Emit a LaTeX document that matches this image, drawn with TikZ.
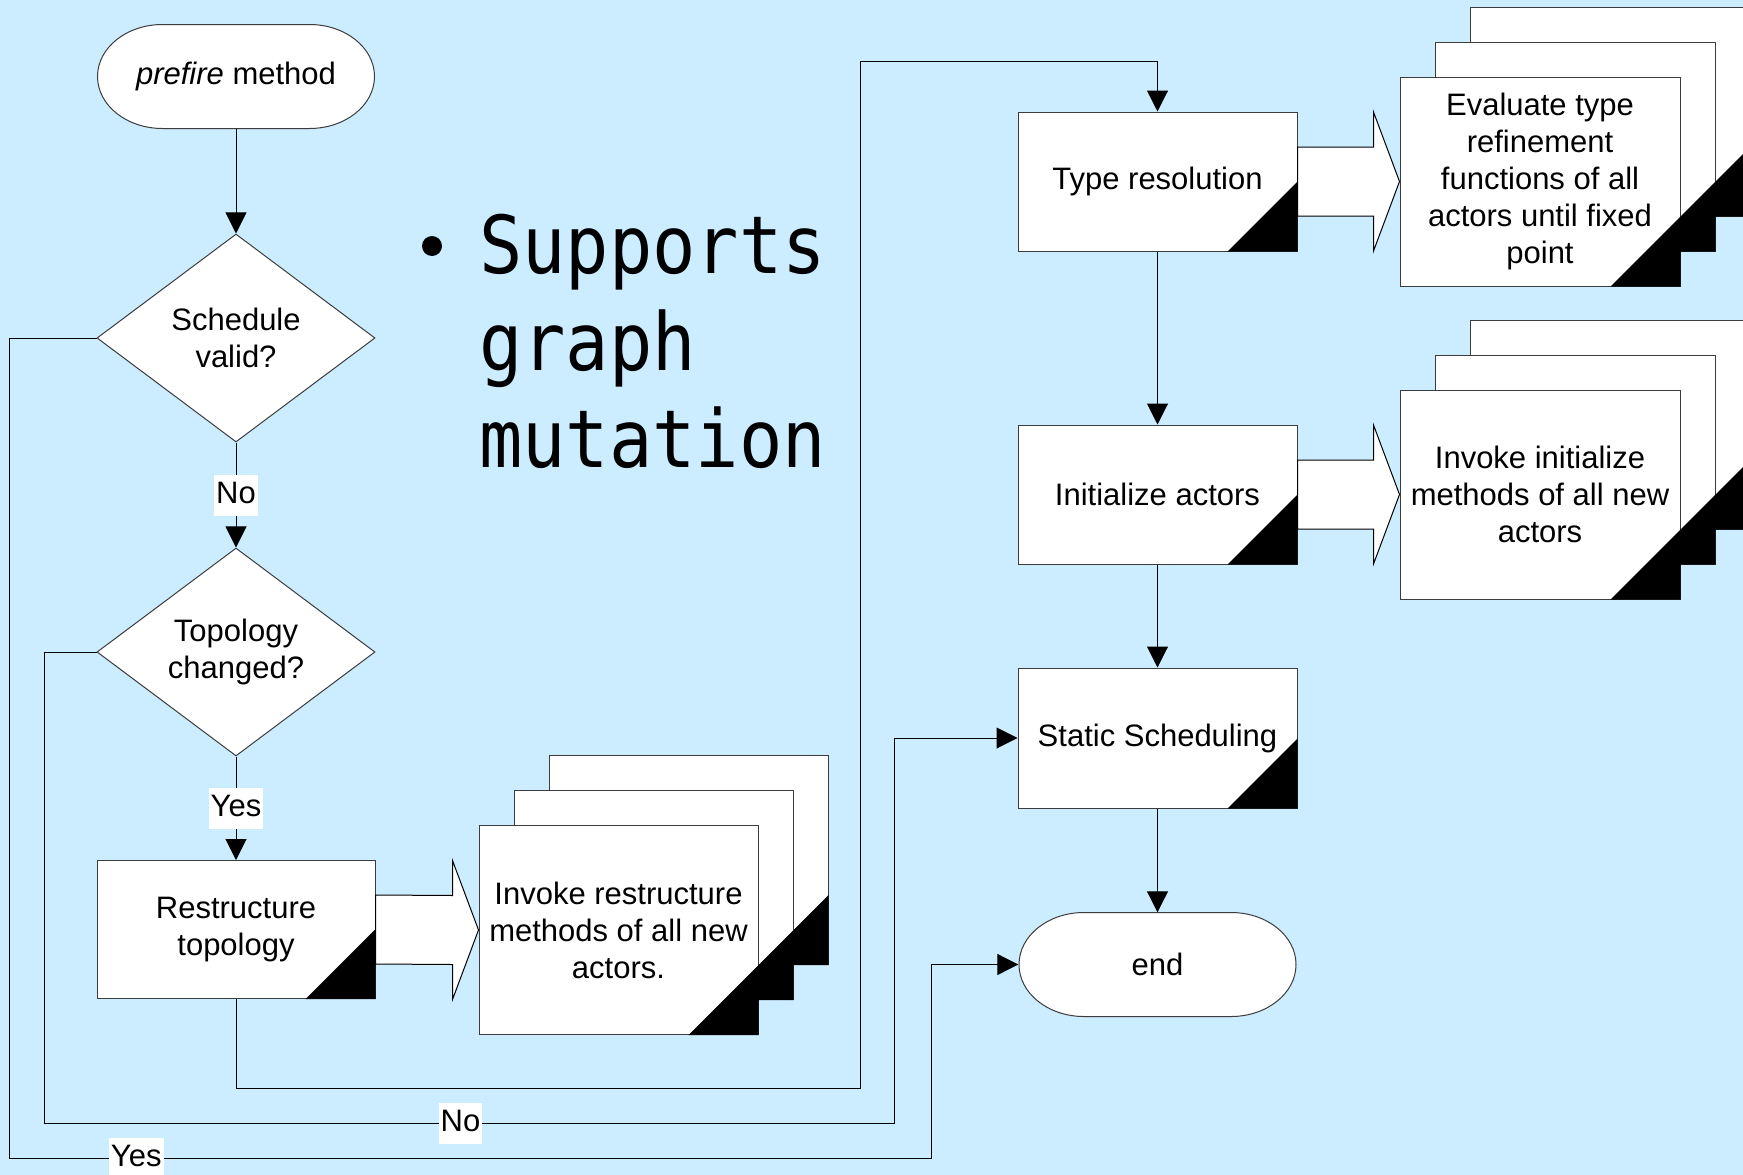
\documentclass[tikz,border=0pt]{standalone}
\usepackage{fontspec}
\setmainfont{Liberation Sans}
\newfontfamily\bulletmono[FakeStretch=0.9]{DejaVu Sans Mono}
\usetikzlibrary{arrows.meta,calc,shapes.geometric,shadows}
\definecolor{slidebg}{RGB}{204,236,255}
\definecolor{edgegray}{RGB}{60,60,60}

% black stepped corner across a stack of three pages
\newcommand{\stackcorner}[1]{%
  \fill ($(#1.south east)+(-70,0)$) -- ++(140,-140) -- ++(0,70) -- ++(-35,0)
        -- ++(0,35) -- ++(-35,0) -- ++(0,35) -- cycle;}
% black corner of a single process box
\newcommand{\boxcorner}[1]{%
  \fill ($(#1.south east)+(-70,0)$) -- (#1.south east) -- ++(0,-70) -- cycle;}
% wide hollow arrow from one box to the next
\newcommand{\fatarrow}[2]{%
  \path[fat] ($(#1.east)+(0,-34.5)$) -- ($(#2.west)+(-26,-34.5)$)
    -- ($(#2.west)+(-26,-69.5)$) -- (#2.west) -- ($(#2.west)+(-26,69.5)$)
    -- ($(#2.west)+(-26,34.5)$) -- ($(#1.east)+(0,34.5)$) -- cycle;}
% terminal outline with elliptical ends, drawn around a centre point
\newcommand{\termoutline}[1]{%
  \path[termline] ($(#1)+(-73.5,-52)$) -- ($(#1)+(73.5,-52)$)
    arc[start angle=-90,end angle=90,x radius=65,y radius=52]
    -- ($(#1)+(-73.5,52)$)
    arc[start angle=90,end angle=270,x radius=65,y radius=52] -- cycle;}

\begin{document}
\begin{tikzpicture}[x=1pt,y=-1pt,
  txt/.style={font=\fontsize{31}{37}\selectfont},
  basic/.style={txt, align=center, inner sep=0pt},
  process/.style={basic, rectangle, draw=edgegray, fill=white, line width=1pt,
    minimum width=279pt, minimum height=139pt},
  page/.style={process, minimum width=280pt, minimum height=209pt,
    copy shadow={shadow xshift=70pt, shadow yshift=70pt, fill=white, draw=edgegray, line width=1pt},
    copy shadow={shadow xshift=35pt, shadow yshift=35pt, fill=white, draw=edgegray, line width=1pt}},
  decision/.style={basic, diamond, aspect=1.336, draw=edgegray, fill=white,
    line width=1pt, minimum width=278pt, minimum height=208pt},
  terminal/.style={basic, rectangle, minimum width=277pt, minimum height=104pt},
  termline/.style={draw=edgegray, fill=white, line width=1pt},
  flow/.style={draw=black, line width=1pt, -{Triangle[length=21pt,width=21pt]}},
  fat/.style={draw=black, fill=white, line width=1pt, line join=miter},
  lbl/.style={txt, fill=white, inner xsep=2pt, inner ysep=5pt,
    text height=24pt, text depth=7pt},
]
\useasboundingbox (0,0) rectangle (1743,1175);
\fill[slidebg] (0,0) rectangle (1743,1175);
\clip (0,0) rectangle (1743,1175);

% left column
\coordinate (startc) at (236,76.5);
\termoutline{startc}
\node[terminal] (start) at (startc) {\textit{prefire} method};
\node[decision] (d1) at (236,338) {Schedule\\valid?};
\node[decision] (d2) at (236,652) {Topology\\changed?};
\node[process, minimum width=278pt, minimum height=138pt] (restr) at (236,929.5) {Restructure\\topology};
\boxcorner{restr}
\node[page, minimum width=279pt] (ir) at (618.5,930) {Invoke restructure\\methods of all new\\actors.};
\stackcorner{ir}

% right column
\node[process] (tr) at (1157.5,181.5) {Type resolution};
\boxcorner{tr}
\node[page] (ev) at (1540,181.5) {Evaluate type\\refinement\\functions of all\\actors until fixed\\point};
\stackcorner{ev}
\node[process] (ia) at (1157.5,494.5) {Initialize actors};
\boxcorner{ia}
\node[page] (ii) at (1540,494.5) {Invoke initialize\\methods of all new\\actors};
\stackcorner{ii}
\node[process, minimum height=140pt] (ss) at (1157.5,738) {Static Scheduling};
\boxcorner{ss}
\coordinate (stopc) at (1157.5,964.5);
\termoutline{stopc}
\node[terminal, minimum width=278pt] (stop) at (stopc) {end};

% hollow arrows into the page stacks
\fatarrow{restr}{ir}
\fatarrow{tr}{ev}
\fatarrow{ia}{ii}

% bullet text
\fill (432,246) circle[radius=10];
\node[anchor=north west, inner sep=0pt, align=left,
  font=\bulletmono\fontsize{80}{97}\selectfont] (bullet) at (479,214)
  {Supports\\graph\\mutation};

% routing points
\coordinate (r1) at (860,1088);
\coordinate (r2) at (860,61);
\coordinate (n1) at (44,1123);
\coordinate (n2) at (894,1123);
\coordinate (y1) at (9,1158);
\coordinate (y2) at (931,1158);

% connectors
\draw[flow] (start) -- (d1);
\draw[flow] (d1) -- node[lbl]{No} (d2);
\draw[flow] (d2) -- node[lbl]{Yes} (restr);
\draw[flow] (restr.south) |- (r1) -- (r2) -| (tr.north);
\draw[flow] (tr) -- (ia);
\draw[flow] (ia) -- (ss);
\draw[flow] (ss) -- (stop);
\draw[flow] (d2.west) -| (n1) -- node[lbl, pos=0.49]{No} (n2) |- (ss.west);
\draw[flow] (d1.west) -| (y1) -- node[lbl, pos=0.138]{Yes} (y2) |- (stop.west);
\end{tikzpicture}
\end{document}
